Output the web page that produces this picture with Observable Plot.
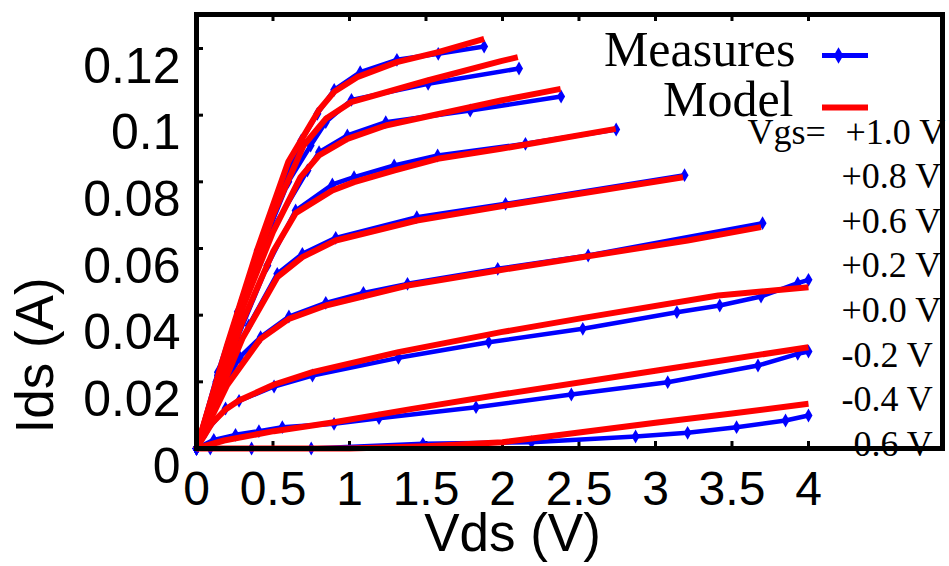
<!DOCTYPE html>
<html>
<head>
<meta charset="utf-8">
<script src="https://cdn.jsdelivr.net/npm/d3@7"></script>
<script src="https://cdn.jsdelivr.net/npm/@observablehq/plot@0.6"></script>
<style>
  html, body { margin: 0; padding: 0; background: #fff; }
  svg { display: block; }
</style>
</head>
<body>
<div id="chart"></div>
<script>
// ---------- data ----------
const xTicks = [0, 0.5, 1, 1.5, 2, 2.5, 3, 3.5, 4];
const yTicks = [0, 0.02, 0.04, 0.06, 0.08, 0.1, 0.12];
const curveNames = ["+1.0", "+0.8", "+0.6", "+0.4", "+0.2", "+0.0", "-0.2", "-0.4", "-0.6"];
const vgsLabels = ["+1.0 V", "+0.8 V", "+0.6 V", "+0.2 V", "+0.0 V", "-0.2 V", "-0.4 V", "-0.6 V"];
const legendNames = ["Measures", "Model"];

// Measured [Vds, Ids]
const meas_p10 = [[0,0],[0.14,0.0229],[0.27,0.041],[0.40,0.0594],[0.54,0.0759],[0.685,0.0924],[0.79,0.1004],[0.90,0.1076],[1.07,0.1129],[1.31,0.1166],[1.58,0.1184],[1.88,0.1206]];
const meas_p08 = [[0,0],[0.14,0.022],[0.30,0.044],[0.46,0.064],[0.60,0.080],[0.746,0.0909],[0.845,0.0979],[1.013,0.1046],[1.514,0.1094],[2.108,0.114]];
const meas_p06 = [[0,0],[0.13,0.020],[0.30,0.043],[0.50,0.066],[0.725,0.0834],[0.801,0.0889],[0.986,0.0939],[1.237,0.0979],[1.789,0.1014],[2.383,0.1056]];
const meas_p04 = [[0,0],[0.12,0.016],[0.266,0.033],[0.463,0.0549],[0.648,0.0714],[0.888,0.0792],[1.03,0.0814],[1.292,0.0849],[1.576,0.0879],[2.15,0.0914],[2.743,0.0957]];
const meas_p02 = [[0,0],[0.12,0.016],[0.342,0.0369],[0.528,0.0524],[0.692,0.0584],[0.91,0.0632],[1.44,0.0694],[2.02,0.0734],[3.19,0.082]];
const meas_p00 = [[0,0],[0.10,0.012],[0.283,0.0274],[0.419,0.0334],[0.604,0.0396],[0.845,0.0437],[1.091,0.0467],[1.379,0.0494],[1.969,0.0539],[2.56,0.0579],[3.70,0.0676]];
const meas_m02 = [[0,0],[0.06,0.005],[0.19,0.012],[0.278,0.0143],[0.507,0.0186],[0.758,0.0219],[1.32,0.0272],[1.91,0.0319],[2.525,0.0359],[3.14,0.0409],[3.42,0.0429],[3.69,0.0456],[3.93,0.0496],[4.0,0.0506]];
const meas_m04 = [[0,0],[0.113,0.0026],[0.255,0.0041],[0.408,0.0052],[0.561,0.0064],[0.899,0.0074],[1.193,0.0091],[1.827,0.0124],[2.45,0.0162],[3.08,0.0199],[3.67,0.0249],[3.93,0.0284],[4.0,0.0291]];
const meas_m06 = [[0,0],[0.09,0],[0.36,0],[0.75,0],[1.48,0.0014],[2.19,0.0019],[2.87,0.0036],[3.21,0.0047],[3.53,0.0064],[3.85,0.0084],[4.0,0.0099]];

// Model [Vds, Ids]
const model_p10 = [[0,0],[0.2,0.031],[0.4,0.060],[0.6,0.086],[0.8,0.1015],[0.9,0.107],[1.05,0.1114],[1.31,0.1159],[1.58,0.1189],[1.88,0.1229]];
const model_p08 = [[0,0],[0.3,0.045],[0.5,0.070],[0.70,0.0909],[0.845,0.0989],[1.01,0.1039],[1.51,0.1104],[1.99,0.1162],[2.10,0.1174]];
const model_p06 = [[0,0],[0.3,0.042],[0.5,0.065],[0.68,0.0814],[0.80,0.0879],[0.986,0.0929],[1.237,0.0969],[1.99,0.1044],[2.38,0.1079]];
const model_p04 = [[0,0],[0.3,0.038],[0.5,0.059],[0.648,0.0706],[0.888,0.0774],[1.03,0.0799],[1.29,0.0834],[1.576,0.0869],[1.99,0.0899],[2.74,0.0959]];
const model_p02 = [[0,0],[0.3,0.033],[0.528,0.0514],[0.692,0.0574],[0.91,0.0624],[1.44,0.0684],[2.02,0.0729],[3.18,0.0814]];
const model_p00 = [[0,0],[0.2,0.019],[0.419,0.0329],[0.604,0.0389],[0.845,0.0429],[1.38,0.0489],[1.97,0.0534],[3.21,0.0624],[3.69,0.0664]];
const model_m02 = [[0,0],[0.1,0.0075],[0.19,0.0117],[0.277,0.0144],[0.507,0.0192],[0.758,0.0229],[1.32,0.0289],[1.99,0.0349],[2.52,0.0391],[3.41,0.0459],[4.0,0.0484]];
const model_m04 = [[0,0],[0.18,0.0024],[0.506,0.0052],[0.899,0.0079],[1.4,0.0118],[1.99,0.0162],[3.0,0.0233],[4.0,0.0304]];
const model_m06 = [[0,0],[1.0,0],[1.5,0.0007],[2.0,0.0019],[2.5,0.0048],[3.0,0.0077],[3.5,0.0105],[4.0,0.0134]];

const measured = [meas_p10, meas_p08, meas_p06, meas_p04, meas_p02, meas_p00, meas_m02, meas_m04, meas_m06];
const modeled = [model_p10, model_p08, model_p06, model_p04, model_p02, model_p00, model_m02, model_m04, model_m06];

// ---------- tables ----------
const toRows = (sets) => sets.flatMap((pts, k) => pts.map(([vds, ids]) => ({vgs: curveNames[k], vds, ids})));
const measRows = toRows(measured);
const modelRows = toRows(modeled);

// ---------- layout ----------
const W = 949, H = 566;
const mL = 196, mR = 7, mT = 14, mB = 118;
const xMax = 4.876, yMax = 0.1302;
const pxX = (W - mL - mR) / xMax;          // px per V
const pxY = (H - mT - mB) / yMax;          // px per A
const X = (px) => (px - mL) / pxX;         // pixel -> data (layout helpers)
const Y = (py) => (H - mB - py) / pxY;

const BLUE = "#0000ff", RED = "#ff0000";
const sans = "'Liberation Sans', Arial, sans-serif";
const serif = "'Liberation Serif', 'Times New Roman', serif";

const labelRows = vgsLabels.map((t, i) => ({t, i}));

const plot = Plot.plot({
  width: W, height: H,
  marginLeft: mL, marginRight: mR, marginTop: mT, marginBottom: mB,
  style: {background: "#fff", overflow: "visible"},
  x: {domain: [0, xMax]},
  y: {domain: [0, yMax]},
  marks: [
    // axis tick labels
    Plot.axisX({ticks: xTicks, tickSize: 0, tickPadding: 22, fontSize: 48, fontFamily: sans, fill: "#000", tickFormat: d => String(d), label: null}),
    Plot.axisY({ticks: yTicks, tickSize: 0, tickPadding: 16, fontSize: 50, fontFamily: sans, fill: "#000", dy: 18, tickFormat: d => String(d), label: null}),
    // inward tick marks
    Plot.ruleX(xTicks, {x: d => d, y1: 0, y2: 7 / pxY, stroke: "#000", strokeWidth: 3}),
    Plot.ruleX(xTicks, {x: d => d, y1: yMax, y2: yMax - 7 / pxY, stroke: "#000", strokeWidth: 3}),
    Plot.ruleY(yTicks, {y: d => d, x1: 0, x2: 7 / pxX, stroke: "#000", strokeWidth: 3}),
    // axis titles
    Plot.text(["Vds (V)"], {x: X(512), frameAnchor: "bottom", dy: 102, lineAnchor: "bottom", text: d => d, fontSize: 53, fontFamily: sans, fill: "#000"}),
    Plot.text(["Ids (A)"], {y: Y(355), frameAnchor: "left", dx: 52 - mL, rotate: -90, lineAnchor: "bottom", textAnchor: "middle", text: d => d, fontSize: 53, fontFamily: sans, fill: "#000"}),
    // measured curves
    Plot.line(measRows, {x: "vds", y: "ids", z: "vgs", stroke: BLUE, strokeWidth: 4.5, strokeLinecap: "butt"}),
    Plot.dot(measRows, {x: "vds", y: "ids", symbol: "diamond", r: 4.2, fill: BLUE, stroke: "none"}),
    // model curves
    Plot.line(modelRows, {x: "vds", y: "ids", z: "vgs", stroke: RED, strokeWidth: 6, strokeLinecap: "butt"}),
    // legend
    Plot.text([legendNames[0]], {x: X(795), y: Y(65), text: d => d, textAnchor: "end", lineAnchor: "bottom", fontSize: 50, fontFamily: serif, fill: "#000"}),
    Plot.text([legendNames[1]], {x: X(793), y: Y(115), text: d => d, textAnchor: "end", lineAnchor: "bottom", fontSize: 50, fontFamily: serif, fill: "#000"}),
    Plot.ruleY([Y(55)], {x1: X(822), x2: X(868), stroke: BLUE, strokeWidth: 5}),
    Plot.dot([0], {x: X(838), y: Y(55), symbol: "diamond", r: 5, fill: BLUE}),
    Plot.ruleY([Y(107)], {x1: X(822), x2: X(868), stroke: RED, strokeWidth: 6}),
    // Vgs labels
    Plot.text(["Vgs="], {x: X(747), y: Y(143), text: d => d, textAnchor: "start", lineAnchor: "bottom", fontSize: 36, fontFamily: serif, fill: "#000"}),
    Plot.text(labelRows, {x: d => X(d.i === 0 ? 845 : 841), y: d => Y(143 + 44.6 * d.i), text: "t", textAnchor: "start", lineAnchor: "bottom", fontSize: 36, fontFamily: serif, fill: "#000"}),
    // frame
    Plot.frame({stroke: "#000", strokeWidth: 5})
  ]
});
document.getElementById("chart").appendChild(plot);
</script>
</body>
</html>
